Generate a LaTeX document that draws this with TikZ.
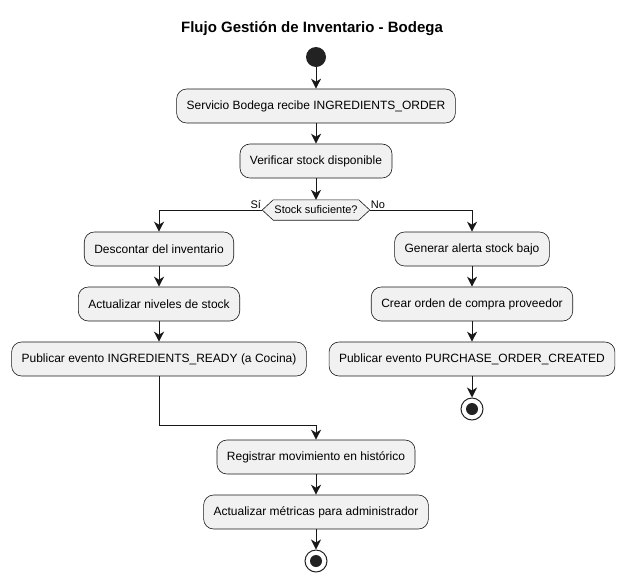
\documentclass[tikz,border=0pt]{standalone}
\usepackage{fontspec}
\setmainfont{Liberation Sans}
\usetikzlibrary{arrows.meta}
\definecolor{boxfill}{HTML}{F1F1F1}
\definecolor{linec}{HTML}{181818}
\definecolor{dotc}{HTML}{222222}

\begin{document}
\begin{tikzpicture}
  [x=1pt,y=-1pt,>={Stealth[length=10pt,width=10pt,inset=3pt]},
   every node/.style={font=\fontsize{12}{14}\selectfont,text=black}]
  \tikzstyle{act} = [draw=linec,fill=boxfill,line width=0.6pt,rounded corners=10pt,minimum height=34pt,inner xsep=10pt]
  \tikzstyle{flow} = [draw=linec,line width=1pt,->]
  \tikzstyle{small} = [font=\fontsize{11}{13}\selectfont]
  \tikzstyle{stopdot} = [circle,draw=dotc,fill=white,line width=1pt,minimum size=22pt,inner sep=0pt,
    path picture={\fill[dotc] (path picture bounding box.center) circle (6pt);}]
  \useasboundingbox (0,0) rectangle (626,582);

  \node[font=\bfseries\fontsize{15}{17}\selectfont] (title) at (312,29) {Flujo Gestión de Inventario - Bodega};
  \node[circle,fill=dotc,minimum size=20pt,inner sep=0pt] (start) at (316,57) {};
  \node[act] (a1) at (316,106) {Servicio Bodega recibe INGREDIENTS\_ORDER};
  \node[act] (a2) at (316,161) {Verificar stock disponible};

  % decision
  \node[small,inner xsep=1pt,minimum height=20pt] (chk) at (316,210) {\phantom{Stock suficiente?}};
  \coordinate (chkL) at ([xshift=-11pt]chk.west);
  \coordinate (chkR) at ([xshift=11pt]chk.east);
  \draw[draw=linec,fill=boxfill,line width=0.6pt] (chkL) -- (chk.north west) -- (chk.north east) -- (chkR)
    -- (chk.south east) -- (chk.south west) -- cycle;
  \node[small] (chktxt) at (chk) {Stock suficiente?};
  \node[small,anchor=south east,inner sep=1pt] (yes) at (chkL) {Sí};
  \node[small,anchor=south west,inner sep=1pt] (no) at (chkR) {No};

  \node[act] (b1) at (159,249) {Descontar del inventario};
  \node[act] (b2) at (159,304) {Actualizar niveles de stock};
  \node[act] (b3) at (159,359) {Publicar evento INGREDIENTS\_READY (a Cocina)};

  \node[act] (c1) at (472,249) {Generar alerta stock bajo};
  \node[act] (c2) at (472,304) {Crear orden de compra proveedor};
  \node[act] (c3) at (472,359) {Publicar evento PURCHASE\_ORDER\_CREATED};
  \node[stopdot] (stop1) at (472,409) {};

  \coordinate (mrg) at (316,425);
  \node[act] (d1) at (316,457) {Registrar movimiento en histórico};
  \node[act] (d2) at (316,512) {Actualizar métricas para administrador};
  \node[stopdot] (stop2) at (316,561) {};

  \foreach \from/\to in {start/a1,a1/a2,a2/chk,b1/b2,b2/b3,c1/c2,c2/c3,c3/stop1,d1/d2,d2/stop2}
    \draw[flow] (\from) -- (\to);
  \draw[flow] (chkL) -| (b1);
  \draw[flow] (chkR) -| (c1);
  \draw[flow] (b3) |- (mrg) -- (d1);

\end{tikzpicture}
\end{document}
